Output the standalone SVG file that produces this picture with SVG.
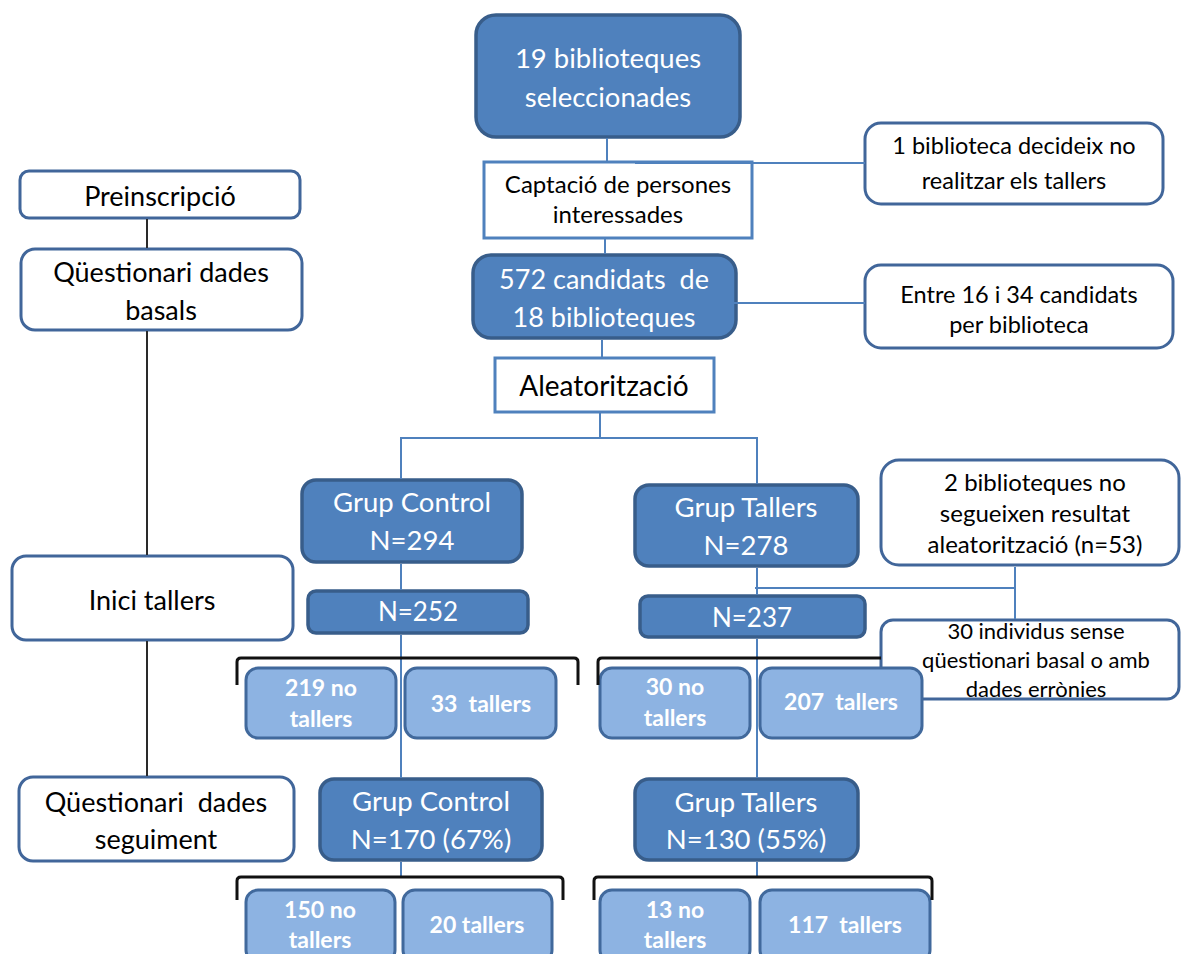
<svg xmlns="http://www.w3.org/2000/svg" width="1182" height="954" viewBox="0 0 1182 954">
<style>
.dk rect{fill:#4F81BD;stroke:#385D8A;stroke-width:3.5}
.lt rect{fill:#8DB3E2;stroke:#41699C;stroke-width:3}
.wh rect{fill:#fff;stroke:#41669A;stroke-width:3}
.sq rect{fill:#fff;stroke:#4F81BD;stroke-width:3}
text{font-family:Lato,"Liberation Sans",sans-serif;text-anchor:middle;white-space:pre}
.dk text{fill:#fff;font-size:27.5px}
.lt text{fill:#fff;font-size:23px;font-weight:bold}
.wh text,.sq text{fill:#000;font-size:24px}
.lc text{font-size:27px}
.cn line,.cn path{stroke:#4F81BD;stroke-width:2;fill:none}
.cn .bk{stroke:#2a2a2a;stroke-width:2}
.cn .br{stroke:#111;stroke-width:3;fill:none}
</style>
<rect width="1182" height="954" fill="#fff"/>
<g id="nodes">
<g id="n-top" class="dk"><rect x="476" y="15" width="264" height="122" rx="20"/><text x="608" y="68">19 biblioteques</text><text x="608" y="107">seleccionades</text></g>
<g id="n-captacio" class="sq"><rect x="484" y="162" width="268" height="76"/><text x="618" y="193">Captació de persones</text><text x="618" y="223">interessades</text></g>
<g id="n-1bib" class="wh"><rect x="865" y="123" width="298" height="81" rx="16"/><text x="1014" y="154" style="font-size:23.5px">1 biblioteca decideix no</text><text x="1014" y="189" style="font-size:23.5px">realitzar els tallers</text></g>
<g id="n-572" class="dk"><rect x="473" y="255" width="263" height="83" rx="18"/><text x="604" y="289" style="font-size:27px">572 candidats  de</text><text x="604" y="327" style="font-size:27px">18 biblioteques</text></g>
<g id="n-entre" class="wh"><rect x="865" y="265" width="308" height="83" rx="16"/><text x="1019" y="303" style="font-size:23.5px">Entre 16 i 34 candidats</text><text x="1019" y="333" style="font-size:23.5px">per biblioteca</text></g>
<g id="n-aleat" class="sq"><rect x="495" y="358" width="219" height="54"/><text x="604" y="396" style="font-size:28px">Aleatorització</text></g>
<g id="n-pre" class="wh lc"><rect x="20" y="171" width="280" height="47" rx="9"/><text x="160" y="206">Preinscripció</text></g>
<g id="n-qbas" class="wh lc"><rect x="21" y="249" width="281" height="81" rx="14"/><text x="161" y="282">Qüestionari dades</text><text x="161" y="320">basals</text></g>
<g id="n-inici" class="wh lc"><rect x="12" y="556" width="281" height="84" rx="14"/><text x="152" y="610">Inici tallers</text></g>
<g id="n-qseg" class="wh lc"><rect x="19" y="777" width="275" height="84" rx="14"/><text x="156" y="812">Qüestionari  dades</text><text x="156" y="849">seguiment</text></g>
<g id="n-gc" class="dk"><rect x="302" y="480" width="220" height="82" rx="14"/><text x="412" y="512">Grup Control</text><text x="412" y="550">N=294</text></g>
<g id="n-gt" class="dk"><rect x="635" y="485" width="223" height="81" rx="14"/><text x="746" y="517">Grup Tallers</text><text x="746" y="555">N=278</text></g>
<g id="n-2bib" class="wh"><rect x="881" y="460" width="298" height="105" rx="18"/><text x="1035" y="491">2 biblioteques no</text><text x="1035" y="522">segueixen resultat</text><text x="1035" y="553">aleatorització (n=53)</text></g>
<g id="n-252" class="dk"><rect x="308" y="591" width="220" height="42" rx="8"/><text x="418" y="621" style="font-size:26px">N=252</text></g>
<g id="n-237" class="dk"><rect x="640" y="596" width="225" height="41" rx="8"/><text x="752" y="627" style="font-size:26px">N=237</text></g>
<g id="n-30ind" class="wh"><rect x="881" y="620" width="298" height="79" rx="12"/><text x="1036" y="639" style="font-size:22px">30 individus sense</text><text x="1036" y="668" style="font-size:22px">qüestionari basal o amb</text><text x="1036" y="697" style="font-size:22px">dades errònies</text></g>
<g id="n-219" class="lt"><rect x="246" y="668" width="150" height="70" rx="12"/><text x="321" y="696">219 no</text><text x="321" y="727">tallers</text></g>
<g id="n-33" class="lt"><rect x="405" y="668" width="151" height="70" rx="12"/><text x="481" y="712">33  tallers</text></g>
<g id="n-30no" class="lt"><rect x="600" y="668" width="150" height="70" rx="12"/><text x="675" y="695">30 no</text><text x="675" y="726">tallers</text></g>
<g id="n-207" class="lt"><rect x="760" y="668" width="162" height="70" rx="12"/><text x="841" y="710">207  tallers</text></g>
<g id="n-gc2" class="dk"><rect x="320" y="779" width="222" height="81" rx="14"/><text x="431" y="811">Grup Control</text><text x="431" y="849">N=170 (67%)</text></g>
<g id="n-gt2" class="dk"><rect x="635" y="779" width="223" height="81" rx="14"/><text x="746" y="812">Grup Tallers</text><text x="746" y="849">N=130 (55%)</text></g>
<g id="n-150" class="lt"><rect x="246" y="890" width="149" height="72" rx="12"/><text x="320" y="918">150 no</text><text x="320" y="948">tallers</text></g>
<g id="n-20" class="lt"><rect x="403" y="890" width="149" height="72" rx="12"/><text x="477" y="933">20 tallers</text></g>
<g id="n-13" class="lt"><rect x="600" y="890" width="150" height="72" rx="12"/><text x="675" y="918">13 no</text><text x="675" y="948">tallers</text></g>
<g id="n-117" class="lt"><rect x="760" y="890" width="170" height="72" rx="12"/><text x="845" y="933">117  tallers</text></g>
</g>
<g id="connectors" class="cn">
<line x1="607" y1="138" x2="607" y2="161"/>
<line x1="635" y1="163" x2="865" y2="163"/>
<line x1="605" y1="239" x2="605" y2="254"/>
<line x1="635" y1="303" x2="865" y2="303"/>
<line x1="602" y1="340" x2="602" y2="357"/>
<line x1="600" y1="413" x2="600" y2="438"/>
<line x1="401" y1="438" x2="757" y2="438"/>
<line x1="401" y1="437" x2="401" y2="479"/>
<line x1="757" y1="437" x2="757" y2="484"/>
<line x1="401" y1="564" x2="401" y2="590"/>
<line x1="401" y1="635" x2="401" y2="778"/>
<line x1="757" y1="568" x2="757" y2="595"/>
<line x1="757" y1="639" x2="757" y2="778"/>
<line x1="755" y1="588" x2="1015" y2="588"/>
<line x1="1015" y1="567" x2="1015" y2="619"/>
<line x1="401" y1="862" x2="401" y2="877"/>
<line x1="757" y1="862" x2="757" y2="877"/>
<line class="bk" x1="147" y1="219" x2="147" y2="248"/>
<line class="bk" x1="147" y1="331" x2="147" y2="555"/>
<line class="bk" x1="147" y1="641" x2="147" y2="776"/>
<path class="br" d="M237,685 V662 Q237,658 241,658 H574 Q578,658 578,662 V685"/>
<path class="br" d="M598,685 V662 Q598,658 602,658 H881"/>
<path class="br" d="M237,900 V881 Q237,877 241,877 H559 Q563,877 563,881 V900"/>
<path class="br" d="M594,900 V881 Q594,877 598,877 H928 Q932,877 932,881 V900"/>
</g>
</svg>
